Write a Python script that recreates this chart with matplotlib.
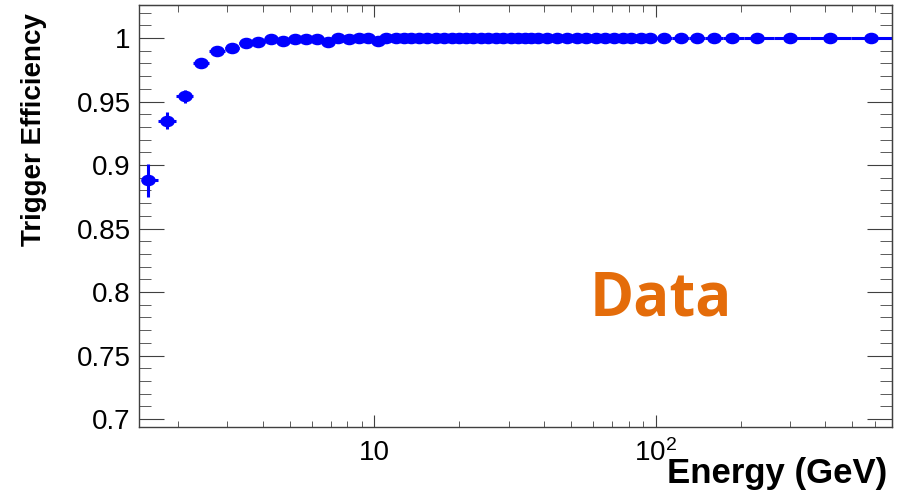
import numpy as np
import matplotlib
matplotlib.use('Agg')
import matplotlib.pyplot as plt
from matplotlib.path import Path
from matplotlib.transforms import Affine2D
from matplotlib.ticker import LogLocator, NullFormatter, FixedLocator, MultipleLocator, FuncFormatter

plt.rcParams['font.family'] = ['Liberation Sans', 'DejaVu Sans']

# trigger efficiency vs energy
energy = [1.57, 1.83, 2.12, 2.42, 2.76, 3.12, 3.48, 3.86, 4.30, 4.73,
          5.20, 5.73, 6.26, 6.83, 7.41, 8.09, 8.78, 9.52, 10.27, 11.0,
          11.9, 12.7, 13.5, 14.4, 15.4, 16.5, 17.6, 18.8, 19.9, 21.2,
          22.4, 24.0, 25.4, 27.1, 28.7, 30.6, 32.4, 34.3, 36.0, 38.2,
          41.1, 44.6, 48.4, 52.5, 56.5, 61.3, 66.0, 71.0, 76.4, 81.5,
          88.5, 95.2, 106.8, 122.7, 139.8, 160.6, 186.0, 228.1, 301.1, 417.5,
          583.4]
eff = [0.888, 0.935, 0.954, 0.980, 0.990, 0.992, 0.996, 0.997, 0.9995, 0.998,
       0.9995, 0.999, 0.999, 0.997, 1.0, 0.999, 1.0, 1.0, 0.998, 1.0] + [1.0] * 41
eff_err = [0.013, 0.007, 0.005, 0.003, 0.002, 0.002, 0.0015, 0.0015, 0.001, 0.001,
           0.001, 0.001, 0.001, 0.001, 0.001, 0.001, 0.001, 0.001, 0.001, 0.0005] + [0.0003] * 41
edge_lo, edge_hi = 1.50, 720.0

e = np.array(energy)
edges = np.concatenate([[edge_lo], np.sqrt(e[:-1] * e[1:]), [edge_hi]])
xerr = [e - edges[:-1], edges[1:] - e]

fig = plt.figure(figsize=(9.03, 4.91), dpi=100)
ax = fig.add_axes([0.154, 0.1303, 0.834, 0.8595])

ellipse = Path.unit_circle().transformed(Affine2D().scale(1.3, 1.0))
ax.errorbar(e, eff, yerr=eff_err, xerr=xerr, fmt='none', ecolor='#0000ff',
            elinewidth=2.2, capsize=0, zorder=2)
ax.plot(e, eff, ls='none', marker=ellipse, ms=9.5, color='#0000ff',
        mec='#0000ff', zorder=3)

ax.set_xscale('log')
ax.set_xlim(1.456, 692)
ax.set_ylim(0.6937, 1.026)

frame = '#404040'
for s in ax.spines.values():
    s.set_color(frame)
    s.set_linewidth(1.0)

ax.xaxis.set_major_locator(FixedLocator([10, 100]))
ax.xaxis.set_major_formatter(FuncFormatter(lambda v, p: '10' if v == 10 else r'$\mathregular{10^2}$'))
ax.xaxis.set_minor_locator(LogLocator(base=10, subs=np.arange(2, 10), numticks=20))
ax.xaxis.set_minor_formatter(NullFormatter())
ax.yaxis.set_major_locator(MultipleLocator(0.05))
ax.yaxis.set_minor_locator(MultipleLocator(0.01))
ax.yaxis.set_major_formatter(FuncFormatter(lambda v, p: '%g' % round(v, 3)))

ax.tick_params(axis='both', which='both', direction='in', color=frame, labelsize=20)
ax.tick_params(axis='x', which='major', length=8.6, pad=9)
ax.tick_params(axis='x', which='minor', length=4.5)
ax.tick_params(axis='y', which='major', length=18, pad=6)
ax.tick_params(axis='y', which='minor', length=8.6)

top = ax.secondary_xaxis('top')
top.xaxis.set_major_locator(FixedLocator([10, 100]))
top.xaxis.set_minor_locator(LogLocator(base=10, subs=np.arange(2, 10), numticks=20))
top.tick_params(axis='x', which='both', direction='in', color=frame, labeltop=False)
top.tick_params(axis='x', which='major', length=8.6)
top.tick_params(axis='x', which='minor', length=5)
top.spines['top'].set_color(frame)

right = ax.secondary_yaxis('right')
right.yaxis.set_major_locator(MultipleLocator(0.05))
right.yaxis.set_minor_locator(MultipleLocator(0.01))
right.tick_params(axis='y', which='both', direction='in', color=frame, labelright=False)
right.tick_params(axis='y', which='major', length=18)
right.tick_params(axis='y', which='minor', length=8.6)
right.spines['right'].set_color(frame)

ax.set_ylabel('Trigger Efficiency', fontsize=20, fontweight='bold')
ax.yaxis.set_label_coords(-0.122, 0.704)
ax.set_xlabel('Energy (GeV)', fontsize=25, fontweight='bold', loc='right')
ax.xaxis.set_label_coords(0.993, -0.072)

fig.text(590 / 903, 1 - 316 / 491, 'Data', fontsize=43, fontweight='bold',
         family='Open Sans', color='#e46c0a', ha='left', va='baseline')

fig.savefig('out.png', dpi=100)
